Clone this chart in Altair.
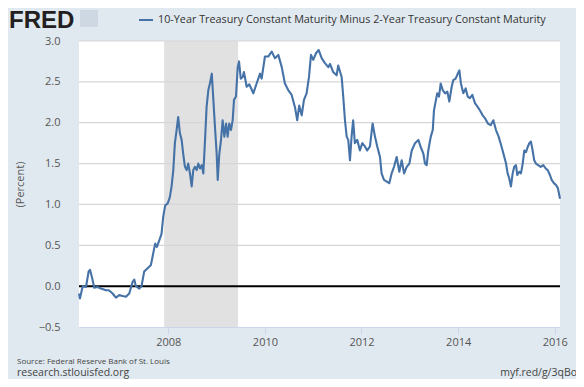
import altair as alt
import pandas as pd

# ---- data ----
series_name = "10-Year Treasury Constant Maturity Minus 2-Year Treasury Constant Maturity"

# time as decimal year
years = [
    2006.151, 2006.172, 2006.228, 2006.296, 2006.352, 2006.379, 2006.420, 2006.468, 2006.538, 2006.607,
    2006.710, 2006.772, 2006.849, 2006.917, 2006.986, 2007.056, 2007.124, 2007.193, 2007.263, 2007.296,
    2007.331, 2007.400, 2007.449, 2007.503, 2007.573, 2007.642, 2007.689, 2007.731, 2007.766, 2007.814,
    2007.863, 2007.896, 2007.938, 2007.988, 2008.035, 2008.070, 2008.104, 2008.139, 2008.174, 2008.207,
    2008.242, 2008.277, 2008.311, 2008.346, 2008.381, 2008.414, 2008.449, 2008.484, 2008.518, 2008.553,
    2008.588, 2008.621, 2008.656, 2008.692, 2008.725, 2008.760, 2008.795, 2008.828, 2008.863, 2008.899,
    2008.932, 2008.967, 2009.002, 2009.023, 2009.056, 2009.091, 2009.126, 2009.159, 2009.195, 2009.230,
    2009.263, 2009.298, 2009.333, 2009.360, 2009.402, 2009.437, 2009.464, 2009.499, 2009.540, 2009.567,
    2009.623, 2009.677, 2009.760, 2009.830, 2009.899, 2009.934, 2010.002, 2010.070, 2010.141, 2010.209,
    2010.277, 2010.348, 2010.416, 2010.484, 2010.555, 2010.623, 2010.671, 2010.712, 2010.762, 2010.810,
    2010.865, 2010.913, 2010.954, 2011.002, 2011.058, 2011.114, 2011.176, 2011.244, 2011.313, 2011.348,
    2011.416, 2011.486, 2011.518, 2011.590, 2011.623, 2011.658, 2011.694, 2011.727, 2011.762, 2011.797,
    2011.830, 2011.865, 2011.913, 2011.969, 2012.017, 2012.072, 2012.120, 2012.176, 2012.232, 2012.280,
    2012.327, 2012.383, 2012.418, 2012.466, 2012.522, 2012.576, 2012.625, 2012.673, 2012.729, 2012.783,
    2012.832, 2012.880, 2012.936, 2012.990, 2013.039, 2013.108, 2013.176, 2013.226, 2013.280, 2013.315,
    2013.350, 2013.383, 2013.433, 2013.474, 2013.501, 2013.542, 2013.569, 2013.605, 2013.640, 2013.681,
    2013.729, 2013.776, 2013.818, 2013.867, 2013.901, 2013.950, 2013.992, 2014.025, 2014.060, 2014.108,
    2014.157, 2014.199, 2014.246, 2014.294, 2014.350, 2014.398, 2014.453, 2014.509, 2014.563, 2014.619,
    2014.675, 2014.729, 2014.785, 2014.840, 2014.888, 2014.923, 2014.957, 2014.992, 2015.027, 2015.060,
    2015.095, 2015.130, 2015.164, 2015.199, 2015.226, 2015.267, 2015.302, 2015.337, 2015.371, 2015.406,
    2015.441, 2015.474, 2015.509, 2015.544, 2015.578, 2015.613, 2015.660, 2015.710, 2015.764, 2015.814,
    2015.855, 2015.903, 2015.938, 2015.986, 2016.027, 2016.068, 2016.110,
]

spread = [
    -0.09, -0.15, 0.00, -0.01, 0.18, 0.20, 0.11, -0.02, -0.01, -0.03,
    -0.05, -0.05, -0.09, -0.14, -0.11, -0.12, -0.13, -0.09, 0.05, 0.08,
    0.00, -0.03, 0.00, 0.18, 0.22, 0.26, 0.40, 0.52, 0.48, 0.56,
    0.64, 0.85, 0.99, 1.01, 1.09, 1.22, 1.42, 1.75, 1.91, 2.07,
    1.87, 1.79, 1.62, 1.46, 1.42, 1.50, 1.38, 1.22, 1.42, 1.46,
    1.42, 1.50, 1.44, 1.48, 1.38, 1.79, 2.20, 2.40, 2.48, 2.60,
    2.28, 1.95, 1.62, 1.30, 1.62, 1.79, 2.03, 1.83, 1.99, 1.83,
    1.99, 1.91, 2.03, 2.28, 2.32, 2.68, 2.75, 2.54, 2.56, 2.62,
    2.44, 2.47, 2.36, 2.48, 2.60, 2.54, 2.81, 2.81, 2.87, 2.79,
    2.83, 2.68, 2.48, 2.40, 2.34, 2.19, 2.03, 2.21, 2.09, 2.28,
    2.36, 2.56, 2.83, 2.77, 2.85, 2.89, 2.79, 2.73, 2.68, 2.72,
    2.62, 2.58, 2.70, 2.56, 2.32, 2.03, 1.83, 1.79, 1.54, 1.83,
    2.03, 1.75, 1.79, 1.66, 1.75, 1.71, 1.66, 1.71, 1.99, 1.83,
    1.71, 1.58, 1.38, 1.30, 1.28, 1.26, 1.38, 1.46, 1.58, 1.40,
    1.54, 1.38, 1.46, 1.50, 1.66, 1.75, 1.79, 1.70, 1.62, 1.50,
    1.48, 1.66, 1.83, 1.91, 2.15, 2.28, 2.36, 2.32, 2.48, 2.40,
    2.36, 2.38, 2.26, 2.44, 2.52, 2.54, 2.60, 2.64, 2.48, 2.36,
    2.42, 2.32, 2.30, 2.34, 2.24, 2.20, 2.15, 2.09, 2.05, 1.99,
    1.97, 2.03, 1.91, 1.83, 1.73, 1.66, 1.58, 1.50, 1.38, 1.32,
    1.22, 1.38, 1.46, 1.48, 1.36, 1.40, 1.38, 1.50, 1.66, 1.64,
    1.70, 1.75, 1.77, 1.66, 1.54, 1.50, 1.48, 1.46, 1.48, 1.44,
    1.42, 1.36, 1.30, 1.26, 1.24, 1.20, 1.07,
]

recession_start = ["2007-12-01"]
recession_end = ["2009-06-12"]

y_ticks = [-0.5, 0.0, 0.5, 1.0, 1.5, 2.0, 2.5, 3.0]
grid_values = [0.5, 1.0, 1.5, 2.0, 2.5, 3.0]
x_tick_years = [2008, 2010, 2012, 2014, 2016]
x_domain = ["2006-02-25", "2016-02-10"]


def to_ts(y):
    yr = int(y)
    start = pd.Timestamp(yr, 1, 1)
    days = (pd.Timestamp(yr + 1, 1, 1) - start).days
    return (start + pd.Timedelta(days=(y - yr) * days)).normalize()


df = pd.DataFrame({
    "date": [to_ts(v) for v in years],
    "value": spread,
    "series": series_name,
})
rec = pd.DataFrame({"start": pd.to_datetime(recession_start), "end": pd.to_datetime(recession_end)})
grid = pd.DataFrame({"v": grid_values})
one = pd.DataFrame({"k": [0]})

W, H = 481, 286
FONT = "Open Sans"

xscale = alt.Scale(domain=[pd.Timestamp(d).isoformat() for d in x_domain], nice=False)
yscale = alt.Scale(domain=[-0.5, 3.0], nice=False, zero=False)

x_axis = alt.Axis(
    values=[alt.DateTime(year=y, month=1, date=1) for y in x_tick_years],
    format="%Y", title=None, grid=False,
    domainColor="#ccd6eb", domainWidth=1,
    tickColor="#ccd6eb", tickSize=7, tickWidth=1,
    labelFont=FONT, labelFontSize=11, labelColor="#555555", labelPadding=2,
)
y_axis = alt.Axis(
    values=y_ticks, format=".1f", grid=False, domain=False, ticks=False, tickSize=0,
    labelFont=FONT, labelFontSize=11, labelColor="#555555", labelPadding=19,
    title="(Percent)", titleFont=FONT, titleFontSize=11, titleFontWeight="normal",
    titleColor="#555555", titleX=-59, titleY=H / 2, titleAngle=-90,
    titleAlign="center", titleBaseline="middle",
)

recession = alt.Chart(rec).mark_rect(color="#e1e1e1").encode(
    x=alt.X("start:T", scale=xscale, axis=x_axis),
    x2="end:T",
    y=alt.value(0),
    y2=alt.value(H),
)

gridlines = alt.Chart(grid).mark_rule(color="#d6d6d6", strokeWidth=1.2).encode(
    y=alt.Y("v:Q", scale=yscale, axis=y_axis),
)

zero = alt.Chart(one).mark_rule(color="black", strokeWidth=2).encode(
    y=alt.datum(0),
)

line = alt.Chart(df).mark_line(strokeWidth=2.1, strokeJoin="round").encode(
    x=alt.X("date:T", scale=xscale, axis=x_axis),
    y=alt.Y("value:Q", scale=yscale, axis=y_axis),
    color=alt.Color(
        "series:N",
        scale=alt.Scale(range=["#4572a7"]),
        legend=alt.Legend(
            title=None, orient="none", legendX=59, legendY=-29,
            symbolType="stroke", symbolSize=196, symbolStrokeWidth=2,
            labelFont=FONT, labelFontSize=10.8, labelColor="#333333",
            labelLimit=0, labelOffset=4, padding=0,
        ),
    ),
)

logo = alt.Chart(one).mark_text(
    text="FRED", font="Liberation Sans", fontSize=24, fontWeight="bold",
    color="#231f20", align="left", baseline="alphabetic",
).encode(x=alt.value(-70), y=alt.value(-13))

logo_icon = alt.Chart(one).mark_rect(color="#cdd8e2").encode(
    x=alt.value(1), x2=alt.value(19), y=alt.value(-31), y2=alt.value(-14),
)

source = alt.Chart(one).mark_text(
    text="Source: Federal Reserve Bank of St. Louis", font=FONT, fontSize=8,
    color="#444444", align="left", baseline="alphabetic",
).encode(x=alt.value(-62), y=alt.value(323))

site = alt.Chart(one).mark_text(
    text="research.stlouisfed.org", font=FONT, fontSize=10.5,
    color="#444444", align="left", baseline="alphabetic",
).encode(x=alt.value(-62), y=alt.value(335))

link = alt.Chart(one).mark_text(
    text="myf.red/g/3qBo", font=FONT, fontSize=10.5,
    color="#444444", align="right", baseline="alphabetic",
).encode(x=alt.value(498), y=alt.value(335))

chart = alt.layer(
    recession, gridlines, zero, line, logo, logo_icon, source, site, link
).properties(
    width=W, height=H,
    autosize=alt.AutoSizeParams(type="none"),
    padding={"left": 71, "top": 33, "right": 16, "bottom": 52},
    background="#e1e9f0",
).configure_view(
    fill="white", stroke=None,
)

chart.save("out.html", embed_options={"renderer": "svg", "actions": False})
